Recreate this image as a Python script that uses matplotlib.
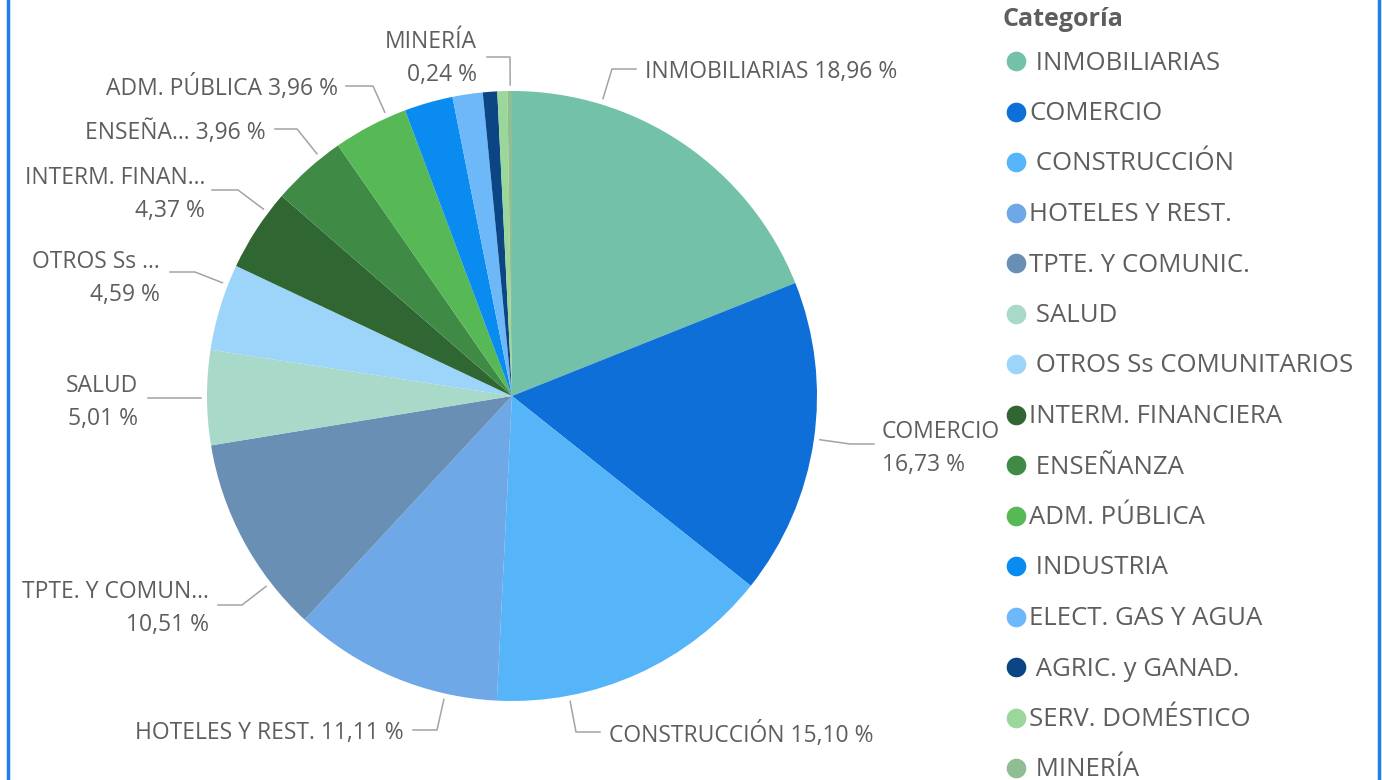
import numpy as np
import matplotlib.pyplot as plt

categories = ['INMOBILIARIAS', 'COMERCIO', 'CONSTRUCCIÓN', 'HOTELES Y REST.', 'TPTE. Y COMUNIC.',
              'SALUD', 'OTROS Ss COMUNITARIOS', 'INTERM. FINANCIERA', 'ENSEÑANZA', 'ADM. PÚBLICA',
              'INDUSTRIA', 'ELECT. GAS Y AGUA', 'AGRIC. y GANAD.', 'SERV. DOMÉSTICO', 'MINERÍA']
# some category names carry a leading space in the source data (visible in the legend)
legend_names = [' INMOBILIARIAS', 'COMERCIO', ' CONSTRUCCIÓN', 'HOTELES Y REST.', 'TPTE. Y COMUNIC.',
                ' SALUD', ' OTROS Ss COMUNITARIOS', 'INTERM. FINANCIERA', ' ENSEÑANZA', 'ADM. PÚBLICA',
                ' INDUSTRIA', 'ELECT. GAS Y AGUA', ' AGRIC. y GANAD.', 'SERV. DOMÉSTICO', ' MINERÍA']
shares = [18.96, 16.73, 15.10, 11.11, 10.51, 5.01, 4.59, 4.37, 3.96, 3.96, 2.57, 1.60, 0.76, 0.53, 0.24]
colors = ['#73C1A8', '#0D6FD7', '#56B5F9', '#6EA8E6', '#6A8FB5', '#A9D9C9', '#9DD4FA', '#2F6632',
          '#3F8B45', '#56B956', '#0A8BF0', '#6CB8F8', '#0B4583', '#9BD69B', '#8FBE92']

# data labels shown on the chart (None = no label)
label_texts = ['INMOBILIARIAS 18,96 %', 'COMERCIO\n16,73 %', 'CONSTRUCCIÓN 15,10 %',
               'HOTELES Y REST. 11,11 %', 'TPTE. Y COMUN...\n10,51 %', 'SALUD\n5,01 %',
               'OTROS Ss ...\n4,59 %', 'INTERM. FINAN...\n4,37 %', 'ENSEÑA... 3,96 %',
               'ADM. PÚBLICA 3,96 %', None, None, None, None, 'MINERÍA\n0,24 %']

W, H = 1382, 780
fig = plt.figure(figsize=(W / 100, H / 100), dpi=100)
ax = fig.add_axes([0, 0, 1, 1])


def Y(p):
    return H - p


cx, cy, r = 512, Y(396), 305
wedges, _ = ax.pie(shares, colors=colors, startangle=90, counterclock=False,
                   center=(cx, cy), radius=r, wedgeprops=dict(linewidth=0),
                   normalize=True)
ax.set_xlim(0, W)
ax.set_ylim(0, H)
ax.set_aspect('equal')
ax.axis('off')

txt_col = '#605E5C'
line_col = '#A3A3A3'
font = ['Open Sans', 'DejaVu Sans']

# label layout in pixels: (elbow x, elbow y, line end x, text x, text y, ha)
layout = {
    0: (612, 69, 636, 645, 72, 'left'),
    1: (850, 444, 874, 882, 449, 'left'),
    2: (576, 732, 600, 609, 735, 'left'),
    3: (437, 730, 413, 404, 733, 'right'),
    4: (242, 605, 218, 209, 609, 'right'),
    5: (201, 398, 148, 138, 402, 'right'),
    6: (195, 272, 170, 160, 278, 'right'),
    7: (238, 190, 212, 205, 195, 'right'),
    8: (297, 129, 275, 266, 133, 'right'),
    9: (373, 86, 346, 338, 88, 'right'),
    14: (510, 57, 487, 477, 58, 'right'),
}

for i, w in enumerate(wedges):
    if label_texts[i] is None:
        continue
    ex, ey, endx, tx, ty, ha = layout[i]
    # leader starts just outside the pie, in the direction of its elbow
    ang = np.arctan2(Y(ey) - cy, ex - cx)
    sx = cx + (r + 6) * np.cos(ang)
    sy = cy + (r + 6) * np.sin(ang)
    ax.plot([sx, ex, endx], [sy, Y(ey), Y(ey)], color=line_col, lw=1.1)
    ax.text(tx, Y(ty), label_texts[i], ha=ha, va='center', fontsize=16.5,
            color=txt_col, family=font, linespacing=1.5)

# legend
ax.text(1003, Y(20), 'Categoría', fontsize=18, fontweight='bold', color=txt_col,
        family=font, va='center', ha='left')
for i, name in enumerate(legend_names):
    yy = 61 + i * 50.5
    ax.scatter([1016], [Y(yy)], s=200, color=colors[i], linewidths=0)
    ax.text(1029, Y(yy + 2), name, fontsize=18.5, color=txt_col, family=font,
            va='center', ha='left')

# frame edges
ax.plot([8, 8], [0, H], color='#1F7FE6', lw=2.5)
ax.plot([1379, 1379], [0, H], color='#1F7FE6', lw=2.5)

fig.savefig('out.png', dpi=100)
